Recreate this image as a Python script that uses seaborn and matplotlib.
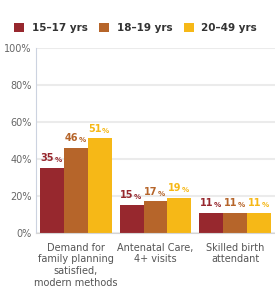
import matplotlib
matplotlib.use("Agg")
import matplotlib.pyplot as plt
from matplotlib.patches import Patch
import seaborn as sns
import pandas as pd

# data
categories = ["Demand for\nfamily planning\nsatisfied,\nmodern methods",
              "Antenatal Care,\n4+ visits",
              "Skilled birth\nattendant"]
age_groups = ["15–17 yrs", "18–19 yrs", "20–49 yrs"]
vals_15_17 = [35, 15, 11]
vals_18_19 = [46, 17, 11]
vals_20_49 = [51, 19, 11]
colors = ["#97282E", "#B6652A", "#F6B817"]

rows = []
for grp, vals in zip(age_groups, [vals_15_17, vals_18_19, vals_20_49]):
    for cat, v in zip(categories, vals):
        rows.append({"category": cat, "group": grp, "value": v})
df = pd.DataFrame(rows)

sns.set_style("white")
plt.rcParams["font.family"] = ["DejaVu Sans"]

fig = plt.figure(figsize=(2.75, 2.88), dpi=100)
ax = fig.add_axes([36 / 275, 1 - 233 / 288, 1 - 36 / 275, (233 - 47.5) / 288])

sns.barplot(data=df, x="category", y="value", hue="group", palette=colors,
            width=0.9, saturation=1, ax=ax, legend=False, linewidth=0)

ax.set_ylim(0, 100)
ax.set_xlim(-0.5, 2.5)
ax.set_yticks([0, 20, 40, 60, 80, 100])
ax.set_yticklabels([f"{t}%" for t in [0, 20, 40, 60, 80, 100]])
ax.yaxis.grid(True, color="#EBEBEB", linewidth=1.5)
ax.set_axisbelow(True)
ax.set_xlabel("")
ax.set_ylabel("")

for s in ["top", "right"]:
    ax.spines[s].set_visible(False)
ax.spines["left"].set_color("#CCD3E0")
ax.spines["bottom"].set_color("#D5D5D5")

ax.tick_params(axis="y", length=0, labelsize=7, labelcolor="#666666", pad=3)
ax.tick_params(axis="x", which="major", length=0, labelsize=7,
               labelcolor="#555555", pad=7)
ax.set_xticks([-0.5, 0.5, 1.5, 2.5], minor=True)
ax.tick_params(axis="x", which="minor", length=6.5, width=1, color="#CCD3E0")
for lbl in ax.get_xticklabels():
    lbl.set_linespacing(1.2)

# value labels: bold number plus a smaller percent sign
for container, color in zip(ax.containers, colors):
    for bar in container:
        h = bar.get_height()
        cx = bar.get_x() + bar.get_width() / 2
        ax.annotate(f"{h:.0f}", xy=(cx, h), xytext=(1.5, 3.5),
                    textcoords="offset points", ha="right", va="bottom",
                    fontsize=7, fontweight="bold", color=color)
        ax.annotate("%", xy=(cx, h), xytext=(1.8, 3.5),
                    textcoords="offset points", ha="left", va="bottom",
                    fontsize=5.2, fontweight="bold", color=color)

handles = [Patch(facecolor=c, edgecolor="none") for c in colors]
fig.legend(handles, age_groups, loc="upper left", bbox_to_anchor=(0.035, 0.935),
           ncol=3, frameon=False, handlelength=1.0, handleheight=1.0,
           handletextpad=0.7, columnspacing=1.1, borderaxespad=0,
           prop={"size": 7.5, "weight": "bold"}, labelcolor="#333333")

fig.savefig("out.png", dpi=100)
